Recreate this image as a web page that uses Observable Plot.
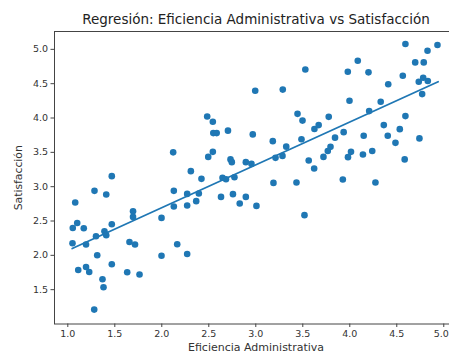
<!DOCTYPE html>
<html>
<head>
<meta charset="utf-8">
<script src="https://cdn.jsdelivr.net/npm/d3@7"></script>
<script src="https://cdn.jsdelivr.net/npm/@observablehq/plot@0.6"></script>
<style>
  html, body { margin: 0; padding: 0; background: white; overflow: hidden; }
</style>
</head>
<body>
<div id="chart"></div>
<script>
const title = "Regresión: Eficiencia Administrativa vs Satisfacción";
const xLabel = "Eficiencia Administrativa";
const yLabel = "Satisfacción";

const eficiencia = [
  1.468, 1.284, 1.409, 1.079, 1.694, 1.694, 1.100, 1.053, 1.170, 1.468,
  1.390, 1.409, 1.300, 1.050, 1.194, 1.656, 1.715, 1.313, 1.468, 1.111,
  1.194, 1.228, 1.632, 1.763, 1.369, 1.380, 1.281, 1.997, 1.997, 2.128,
  2.128, 2.164, 2.270, 2.270, 2.270, 2.309, 2.422, 2.366, 2.394, 2.646,
  2.683, 2.773, 2.630, 2.757, 2.829, 2.894, 2.483, 2.543, 2.548, 2.584,
  2.121, 2.543, 2.494, 2.994, 3.287, 3.444, 2.704, 2.968, 3.181, 2.731,
  2.745, 2.894, 2.954, 3.324, 3.210, 3.284, 3.188, 3.433, 3.007, 4.085,
  3.979, 4.199, 3.527, 3.997, 4.206, 3.497, 3.776, 3.624, 3.669, 3.486,
  3.843, 3.935, 4.148, 3.795, 3.766, 3.720, 3.563, 3.621, 4.013, 3.981,
  4.140, 4.239, 3.926, 4.273, 3.518, 4.592, 4.933, 4.827, 4.696, 4.787,
  4.564, 4.409, 4.734, 4.781, 4.830, 4.770, 4.329, 4.592, 4.362, 4.532,
  4.404, 4.486, 4.741, 4.584
];
const satisfaccion = [
  3.153, 2.939, 2.886, 2.770, 2.643, 2.560, 2.472, 2.399, 2.395, 2.453,
  2.351, 2.293, 2.278, 2.176, 2.157, 2.195, 2.157, 2.001, 1.870, 1.787,
  1.831, 1.758, 1.754, 1.720, 1.652, 1.535, 1.210, 2.545, 1.994, 2.939,
  2.711, 2.162, 2.020, 2.726, 2.895, 3.226, 3.114, 2.789, 2.901, 3.131,
  3.109, 3.138, 2.851, 2.891, 2.755, 2.851, 4.023, 3.945, 3.780, 3.780,
  3.500, 3.507, 3.434, 4.397, 4.414, 4.061, 3.816, 3.761, 3.663, 3.397,
  3.357, 3.357, 3.332, 3.583, 3.420, 3.448, 3.055, 3.061, 2.720, 4.834,
  4.673, 4.665, 4.706, 4.251, 4.101, 3.962, 4.017, 3.841, 3.897, 3.690,
  3.714, 3.794, 3.741, 3.580, 3.520, 3.434, 3.382, 3.265, 3.507, 3.430,
  3.469, 3.520, 3.105, 3.061, 2.585, 5.077, 5.063, 4.980, 4.810, 4.810,
  4.615, 4.491, 4.528, 4.586, 4.538, 4.348, 4.236, 4.028, 3.897, 3.838,
  3.741, 3.638, 3.703, 3.397
];

// Fitted regression line endpoints
const fitX = [1.047, 4.940];
const fitY = [2.099, 4.528];

const xTicks = [1.0, 1.5, 2.0, 2.5, 3.0, 3.5, 4.0, 4.5];
const xTickLast = [5.0];
const yTicks = [1.5, 2.0, 2.5, 3.0, 3.5, 4.0, 4.5, 5.0];

const points = eficiencia.map((x, i) => ({x, y: satisfaccion[i]}));
const fit = fitX.map((x, i) => ({x, y: fitY[i]}));

const blue = "#1f77b4";
const fmt = d3.format(".1f");

const chart = Plot.plot({
  width: 449,
  height: 354,
  marginLeft: 54,
  marginRight: -8,
  marginTop: 31,
  marginBottom: 30.5,
  style: {fontFamily: "DejaVu Sans, sans-serif", background: "white", color: "#333"},
  x: {domain: [0.8585, 5.146]},
  y: {domain: [1.0, 5.26]},
  marks: [
    Plot.frame({stroke: "#444", strokeWidth: 1}),
    Plot.axisX({ticks: xTicks, tickFormat: fmt, tickSize: 3.5, tickPadding: 2.5, fontSize: 9.5, label: null, stroke: "#444"}),
    Plot.axisX({ticks: xTickLast, tickSize: 3.5, tickPadding: 2.5, label: null, stroke: "#444", text: null}),
    Plot.axisX({ticks: xTickLast, tickFormat: fmt, tickSize: 0, tickPadding: 6, fontSize: 9.5, label: null, dx: -2.5}),
    Plot.axisY({ticks: yTicks, tickFormat: fmt, tickSize: 3.5, tickPadding: 3, fontSize: 9.5, label: null, stroke: "#444"}),
    Plot.line(fit, {x: "x", y: "y", stroke: blue, strokeWidth: 1.8}),
    Plot.dot(points, {x: "x", y: "y", r: 3.3, fill: blue, stroke: "none"}),
    Plot.text([title], {frameAnchor: "top", dy: -12, textAnchor: "middle", lineAnchor: "middle", fontSize: 13.5, fill: "#222"}),
    Plot.text([xLabel], {frameAnchor: "bottom", dy: 23, textAnchor: "middle", lineAnchor: "middle", fontSize: 11, fill: "#333"}),
    Plot.text([yLabel], {frameAnchor: "left", dx: -36, rotate: -90, textAnchor: "middle", lineAnchor: "middle", fontSize: 10.8, fill: "#333"})
  ]
});
document.getElementById("chart").appendChild(chart);
</script>
</body>
</html>
